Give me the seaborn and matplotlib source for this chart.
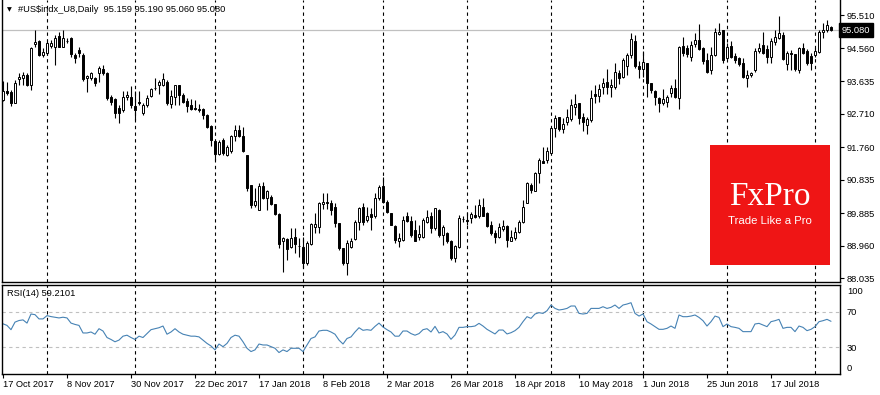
import numpy as np
import pandas as pd
import matplotlib
matplotlib.use("Agg")
import matplotlib.pyplot as plt
from matplotlib.patches import Rectangle
import seaborn as sns

# --- data: #US$indx_U8 daily, 17 Oct 2017 .. 7 Aug 2018 ---
first_day = "2017-10-17"
last_day = "2018-08-07"
holidays = ["2017-12-25", "2018-01-01", "2018-03-30"]

opens = [
    93.10, 93.36, 93.31, 93.02, 93.70, 93.72, 93.81, 93.51, 94.68, 94.78,
    94.38, 94.43, 94.64, 94.61, 94.92, 94.61, 94.78, 94.85, 94.38, 94.53,
    94.38, 93.72, 93.72, 93.72, 93.86, 93.97, 93.86, 93.19, 93.12, 92.86,
    92.80, 93.18, 93.19, 92.93, 93.04, 92.74, 92.96, 93.21, 93.43, 93.53,
    93.53, 93.62, 92.98, 93.19, 93.53, 93.24, 93.07, 92.96, 92.86, 92.84,
    92.84, 92.67, 92.37, 91.94, 91.57, 91.96, 91.54, 91.66, 92.08, 92.25,
    92.08, 91.54, 90.69, 90.12, 89.98, 90.66, 90.31, 90.35, 90.14, 89.86,
    89.08, 89.14, 88.92, 89.22, 88.95, 88.93, 88.46, 89.00, 89.50, 89.50,
    90.14, 90.21, 90.17, 90.07, 89.60, 88.89, 88.46, 88.93, 89.14, 89.64,
    90.05, 89.69, 89.86, 89.79, 90.31, 90.66, 90.21, 89.88, 89.52, 89.08,
    89.12, 89.79, 89.67, 89.41, 89.22, 89.22, 89.64, 89.79, 89.46, 89.98,
    89.26, 89.33, 89.10, 88.60, 88.92, 89.71, 89.69, 89.74, 89.83, 89.79,
    90.05, 89.90, 89.55, 89.31, 89.22, 89.44, 89.53, 89.10, 89.17, 89.36,
    89.62, 90.18, 90.69, 90.52, 91.02, 91.37, 91.38, 91.60, 92.30, 92.61,
    92.27, 92.47, 92.55, 92.89, 93.02, 92.61, 92.39, 92.53, 93.27, 93.21,
    93.46, 93.62, 93.46, 93.46, 93.86, 93.74, 94.07, 94.38, 94.78, 94.07,
    93.97, 94.14, 93.57, 93.36, 93.15, 93.02, 93.05, 93.29, 93.43, 93.15,
    94.63, 94.57, 94.33, 94.68, 94.80, 94.57, 94.24, 93.95, 94.38, 94.97,
    95.07, 94.28, 94.63, 94.35, 94.28, 94.16, 93.72, 93.81, 93.95, 94.50,
    94.66, 94.54, 94.33, 94.74, 94.85, 94.95, 94.12, 94.44, 94.41, 93.95,
    94.57, 94.50, 94.35, 94.38, 94.47, 95.03, 95.09, 95.159,
]
highs = [
    93.64, 93.61, 93.38, 93.67, 93.87, 93.89, 93.87, 94.61, 95.09, 94.80,
    94.57, 94.76, 94.80, 94.95, 95.04, 95.09, 94.85, 94.89, 94.43, 94.61,
    94.43, 93.81, 93.90, 93.76, 94.05, 94.09, 93.90, 93.24, 93.15, 92.96,
    93.34, 93.36, 93.48, 93.34, 93.34, 93.01, 93.24, 93.43, 93.72, 93.67,
    93.87, 93.67, 93.38, 93.53, 93.53, 93.29, 93.15, 93.12, 93.10, 92.98,
    92.86, 92.69, 92.39, 91.96, 91.96, 92.01, 91.82, 92.11, 92.39, 92.39,
    92.34, 91.54, 90.69, 90.59, 90.73, 90.78, 90.54, 90.40, 90.14, 89.90,
    89.22, 89.17, 89.46, 89.46, 89.17, 89.22, 89.08, 89.60, 89.89, 90.21,
    90.47, 90.47, 90.26, 90.17, 89.60, 88.89, 89.12, 89.17, 89.69, 90.07,
    90.17, 90.07, 90.02, 90.45, 90.69, 90.92, 90.26, 89.90, 89.55, 89.31,
    89.79, 89.93, 89.79, 89.69, 89.55, 89.74, 89.98, 89.93, 90.02, 90.00,
    89.55, 89.36, 89.12, 88.98, 89.83, 89.81, 89.92, 89.93, 90.12, 90.28,
    90.31, 89.93, 89.67, 89.41, 89.60, 89.69, 89.55, 89.41, 89.50, 89.69,
    90.26, 90.78, 90.73, 91.06, 91.44, 91.77, 91.77, 92.30, 92.67, 92.61,
    92.58, 92.85, 93.12, 93.27, 93.02, 92.72, 92.61, 93.38, 93.53, 93.55,
    93.72, 93.97, 93.69, 94.14, 93.95, 94.28, 94.44, 94.99, 94.95, 94.19,
    94.50, 94.14, 93.59, 93.38, 93.17, 93.40, 93.24, 93.53, 93.69, 94.63,
    94.88, 94.66, 94.76, 94.99, 95.26, 94.60, 94.43, 94.61, 95.13, 95.28,
    95.09, 94.71, 94.76, 94.43, 94.33, 94.28, 93.95, 93.90, 94.57, 94.71,
    95.04, 94.66, 94.85, 95.09, 95.47, 95.04, 94.50, 94.52, 94.41, 94.60,
    94.71, 94.54, 94.43, 94.57, 95.09, 95.28, 95.37, 95.190,
]
lows = [
    93.07, 93.24, 92.93, 93.02, 93.53, 93.51, 93.48, 93.38, 94.61, 94.35,
    94.33, 94.38, 94.57, 94.09, 94.61, 94.61, 94.71, 94.33, 94.16, 94.33,
    93.64, 93.31, 93.67, 93.48, 93.62, 93.81, 93.10, 92.96, 92.58, 92.44,
    92.77, 93.10, 92.86, 92.53, 92.96, 92.67, 92.91, 93.18, 93.38, 93.27,
    93.48, 92.96, 92.86, 92.96, 92.96, 93.01, 92.77, 92.82, 92.82, 92.77,
    92.55, 92.30, 91.79, 91.40, 91.54, 91.54, 91.51, 91.60, 91.92, 92.06,
    91.63, 90.52, 90.04, 90.07, 89.96, 90.28, 89.98, 90.12, 89.83, 88.89,
    88.22, 88.56, 88.89, 88.75, 88.65, 88.32, 88.41, 88.98, 89.33, 89.33,
    90.00, 90.00, 89.83, 89.50, 88.84, 88.41, 88.13, 88.89, 89.12, 89.41,
    89.55, 89.64, 89.41, 89.74, 90.26, 90.17, 89.88, 89.55, 89.03, 88.92,
    89.08, 89.64, 89.22, 89.08, 89.12, 89.17, 89.60, 89.31, 89.41, 89.22,
    88.98, 89.03, 88.56, 88.51, 88.89, 89.64, 89.55, 89.60, 89.74, 89.74,
    89.79, 89.50, 89.26, 89.03, 89.17, 89.38, 88.93, 89.08, 89.12, 89.31,
    89.60, 90.17, 90.45, 90.50, 90.73, 91.30, 91.30, 91.59, 92.04, 92.23,
    92.17, 92.39, 92.51, 92.67, 92.41, 92.23, 92.13, 92.48, 93.02, 93.05,
    93.26, 93.27, 93.19, 93.40, 93.55, 93.72, 93.81, 94.28, 94.00, 93.72,
    93.76, 93.19, 93.29, 92.96, 92.77, 92.96, 92.91, 93.18, 93.15, 92.84,
    94.35, 94.33, 94.19, 94.61, 94.52, 94.12, 93.86, 93.84, 94.35, 94.95,
    94.16, 94.26, 94.30, 94.14, 94.07, 93.72, 93.46, 93.76, 93.90, 94.43,
    94.41, 94.14, 94.14, 94.66, 94.82, 94.24, 93.95, 93.95, 93.93, 93.86,
    94.41, 94.09, 93.95, 94.33, 94.43, 94.85, 95.04, 95.060,
]
closes = [
    93.36, 93.30, 93.02, 93.59, 93.76, 93.82, 93.51, 94.57, 94.74, 94.38,
    94.46, 94.71, 94.71, 94.85, 94.61, 94.85, 94.76, 94.40, 94.28, 94.43,
    93.69, 93.78, 93.86, 93.59, 94.00, 93.86, 93.15, 93.05, 92.72, 92.72,
    93.19, 93.24, 92.96, 92.80, 93.02, 92.96, 93.15, 93.40, 93.44, 93.60,
    93.70, 93.01, 93.21, 93.53, 93.24, 93.05, 92.94, 92.84, 92.85, 92.82,
    92.67, 92.34, 91.96, 91.57, 91.90, 91.59, 91.76, 92.08, 92.25, 92.08,
    91.66, 90.61, 90.12, 90.23, 90.66, 90.31, 90.52, 90.14, 89.86, 89.00,
    89.17, 88.86, 89.17, 89.00, 88.96, 88.46, 89.03, 89.57, 89.58, 90.17,
    90.21, 90.17, 89.98, 89.60, 88.89, 88.46, 89.05, 89.10, 89.64, 90.02,
    89.64, 89.79, 89.77, 90.31, 90.62, 90.21, 89.93, 89.55, 89.12, 89.17,
    89.69, 89.67, 89.26, 89.10, 89.29, 89.69, 89.77, 89.46, 90.02, 89.26,
    89.50, 89.08, 88.60, 88.95, 89.74, 89.72, 89.66, 89.85, 89.77, 90.12,
    89.81, 89.52, 89.31, 89.22, 89.48, 89.52, 89.12, 89.22, 89.36, 89.64,
    90.05, 90.73, 90.54, 91.03, 91.40, 91.30, 91.66, 92.30, 92.58, 92.27,
    92.41, 92.61, 92.96, 92.99, 92.58, 92.47, 92.55, 93.15, 93.21, 93.40,
    93.57, 93.46, 93.53, 93.90, 93.72, 94.22, 94.38, 94.82, 94.05, 93.97,
    94.17, 93.57, 93.38, 93.17, 93.01, 93.12, 93.18, 93.43, 93.18, 94.60,
    94.44, 94.41, 94.66, 94.80, 94.54, 94.19, 93.90, 94.38, 95.02, 95.04,
    94.22, 94.60, 94.33, 94.22, 94.12, 93.74, 93.81, 93.87, 94.49, 94.57,
    94.43, 94.31, 94.76, 94.88, 94.99, 94.26, 94.44, 94.40, 93.97, 94.57,
    94.43, 94.14, 94.14, 94.50, 95.04, 95.07, 95.23, 95.080,
]
rsi = [
    56.4, 54.6, 49.8, 58.3, 60.1, 60.8, 57.2, 67.4, 66.7, 61.9,
    61.9, 65.6, 64.5, 63.8, 63.0, 63.8, 63.0, 57.2, 55.7, 54.6,
    46.1, 46.1, 47.2, 44.7, 50.9, 48.3, 41.0, 38.8, 36.2, 38.1,
    42.5, 43.6, 41.0, 38.8, 42.5, 41.0, 45.4, 49.8, 50.9, 52.0,
    53.9, 44.7, 47.2, 50.9, 47.2, 44.7, 43.6, 42.5, 42.5, 41.7,
    38.1, 34.4, 31.5, 27.1, 33.7, 30.7, 34.4, 41.0, 43.6, 42.5,
    36.2, 28.9, 25.2, 27.1, 33.7, 32.6, 32.6, 30.7, 28.9, 24.1,
    27.1, 25.2, 28.9, 28.9, 28.9, 25.2, 32.6, 39.9, 41.7, 48.3,
    49.1, 49.1, 47.2, 44.7, 38.1, 33.7, 39.9, 41.7, 47.2, 52.0,
    49.1, 49.8, 49.1, 53.5, 57.2, 52.8, 49.8, 47.2, 42.5, 42.5,
    48.3, 48.3, 45.4, 43.6, 45.4, 49.8, 50.9, 47.2, 53.5, 46.1,
    47.6, 45.0, 39.0, 43.8, 52.4, 52.4, 53.2, 53.2, 53.9, 56.9,
    53.9, 50.2, 47.6, 45.0, 49.4, 49.4, 45.0, 46.4, 48.7, 52.4,
    58.8, 64.4, 62.5, 67.4, 68.9, 68.1, 71.1, 77.5, 73.7, 71.9,
    72.6, 73.7, 76.4, 76.4, 68.1, 67.4, 68.1, 73.7, 73.7, 73.7,
    75.6, 73.7, 74.9, 77.5, 73.7, 77.5, 78.6, 80.1, 68.1, 65.1,
    67.4, 58.8, 56.2, 53.2, 50.2, 50.2, 51.3, 53.9, 51.3, 66.3,
    64.4, 64.4, 65.1, 66.3, 63.6, 59.9, 53.9, 58.8, 65.1, 63.6,
    53.2, 56.2, 53.2, 52.4, 51.3, 47.6, 47.6, 47.6, 56.2, 56.9,
    55.0, 53.2, 58.8, 59.9, 61.4, 51.3, 52.4, 52.4, 47.6, 53.9,
    52.4, 48.7, 50.2, 53.2, 58.8, 59.9, 61.4, 59.21,
]

price_ticks = [95.510, 94.560, 93.635, 92.710, 91.760, 90.835, 89.885, 88.960, 88.035]
rsi_levels = [30, 70]
date_labels = ["17 Oct 2017", "8 Nov 2017", "30 Nov 2017", "22 Dec 2017",
               "17 Jan 2018", "8 Feb 2018", "2 Mar 2018", "26 Mar 2018",
               "18 Apr 2018", "10 May 2018", "1 Jun 2018", "25 Jun 2018",
               "17 Jul 2018"]
title = "#US$indx_U8,Daily  95.159 95.190 95.060 95.080"
rsi_title = "RSI(14) 59.2101"

sns.set_style("white")
plt.rcParams["font.family"] = ["Liberation Sans", "DejaVu Sans"]

dates = pd.bdate_range(first_day, last_day, freq="C", holidays=holidays)
df = pd.DataFrame({"open": opens, "high": highs, "low": lows,
                   "close": closes, "rsi": rsi})
df["i"] = np.arange(len(df))
df["up"] = df["close"] >= df["open"]
month_starts = df["i"][pd.Series(dates.month).diff().fillna(0).ne(0).values].tolist()

fig = plt.figure(figsize=(8.8, 3.95), dpi=100)
ax = fig.add_axes([2 / 880, 1 - 282 / 395, 838 / 880, 282 / 395])
ax2 = fig.add_axes([2 / 880, 1 - 374 / 395, 838 / 880, 89 / 395])

# candles
ax.vlines(df["i"], df["low"], df["high"], color="black", lw=0.8, zorder=2)
body = (df["close"] - df["open"]).abs().clip(lower=0.01)
bottom = df[["open", "close"]].min(axis=1)
ax.bar(df["i"], body, bottom=bottom, width=0.62,
       color=np.where(df["up"], "white", "black"),
       edgecolor="black", linewidth=0.7, zorder=3)

ax.axhline(closes[-1], color="#c0c0c0", lw=0.9, zorder=1)
for m in month_starts:
    ax.axvline(m, color="black", lw=0.8, ls=(0, (3, 3)), zorder=1)
    ax2.axvline(m, color="black", lw=0.8, ls=(0, (3, 3)), zorder=1)

ax.set_xlim(-0.25, 209.25)
ax.set_ylim(87.929, 95.936)
ax.yaxis.tick_right()
ax.set_yticks(price_ticks)
ax.set_yticklabels([f"{v:.3f}" for v in price_ticks])
ax.tick_params(axis="y", right=True, length=3, width=0.8, pad=2,
               labelsize=6.7, colors="black")
ax.set_xticks([])
for s in ["left", "right", "bottom"]:
    ax.spines[s].set_color("black")
    ax.spines[s].set_linewidth(1)
ax.spines["top"].set_visible(False)

ax.text(1.002, closes[-1], f"{closes[-1]:.3f}", transform=ax.get_yaxis_transform(),
        ha="left", va="center", fontsize=6.7, color="white", clip_on=False,
        bbox=dict(boxstyle="square,pad=0.25", fc="black", ec="black"))

# RSI panel
sns.lineplot(x=df["i"], y=df["rsi"], ax=ax2, color="#4682b4", lw=0.8)
for lv in rsi_levels:
    ax2.axhline(lv, color="#c0c0c0", lw=0.8, ls=(0, (3, 3)), zorder=1)
ax2.set_xlim(-0.25, 209.25)
ax2.set_ylim(0, 100)
ax2.yaxis.tick_right()
ax2.set_yticks([7.4, 30, 70, 93.5])
ax2.set_yticklabels(["0", "30", "70", "100"])
ax2.tick_params(axis="y", right=True, length=0, pad=5, labelsize=6.7, colors="black")
ax2.set_xticks(df["i"][::16][:len(date_labels)])
ax2.set_xticklabels(date_labels, ha="left")
ax2.tick_params(axis="x", bottom=True, length=3, width=0.8, pad=1.5,
                labelsize=6.7, colors="black")
ax2.set_xlabel("")
ax2.set_ylabel("")
for s in ax2.spines.values():
    s.set_color("black")
    s.set_linewidth(1)
ax2.text(5 / 838, 0.9, rsi_title, transform=ax2.transAxes, ha="left", va="center",
         fontsize=6.7, color="black")

# header
fig.text(7 / 880, 1 - 10 / 395, "\u25bc", fontsize=4.5, ha="left", va="center",
         color="black", family=["DejaVu Sans"])
fig.text(18 / 880, 1 - 10 / 395, title, fontsize=6.7, ha="left", va="center",
         color="black")

# FxPro logo
fig.patches.append(Rectangle((710 / 880, 1 - 265 / 395), 120 / 880, 120 / 395,
                             transform=fig.transFigure, fc="#ef1515", ec="none",
                             zorder=5))
fig.text(770 / 880, 1 - 197 / 395, "FxPro", fontsize=24, color="white",
         family=["Liberation Serif"], ha="center", va="center", zorder=6)
fig.text(770 / 880, 1 - 221 / 395, "Trade Like a Pro", fontsize=8.2, color="white",
         ha="center", va="center", zorder=6)

fig.savefig("out.png", dpi=100)
